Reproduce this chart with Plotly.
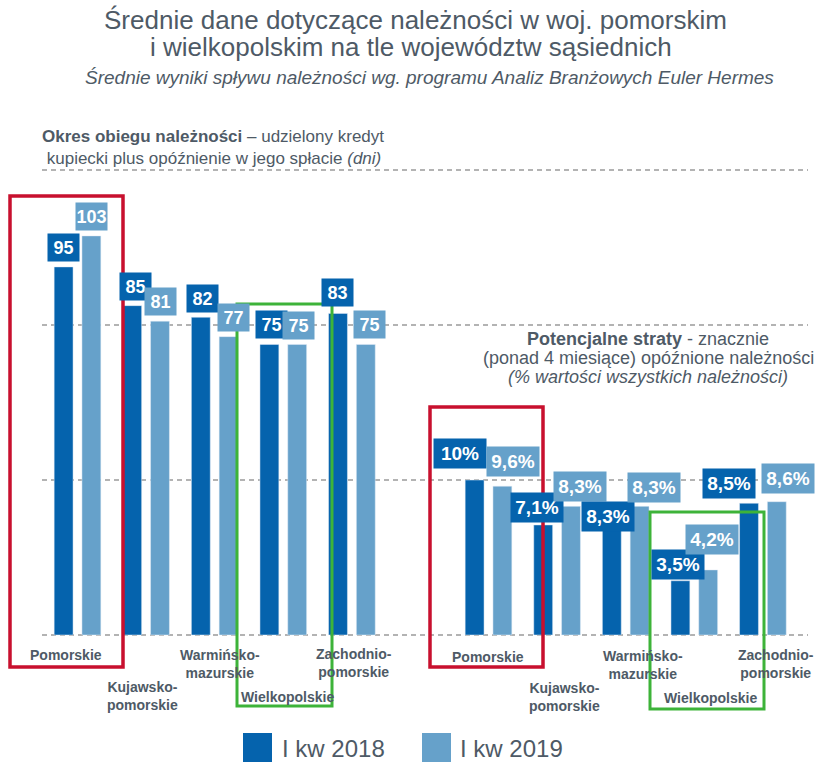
import plotly.graph_objects as go

# ---------------- data ----------------
regions = ["Pomorskie", "Kujawsko-<br>pomorskie", "Warmińsko-<br>mazurskie", "Wielkopolskie", "Zachodnio-<br>pomorskie"]
days_2018 = [95, 85, 82, 75, 83]
days_2019 = [103, 81, 77, 75, 75]
loss_2018 = [10, 7.1, 8.3, 3.5, 8.5]
loss_2019 = [9.6, 8.3, 8.3, 4.2, 8.6]
series_names = ["I kw 2018", "I kw 2019"]

# ---------------- style ----------------
W, H = 831, 771
DARK = "#0563AD"
LIGHT = "#66A1CA"
TXT = "#4E5A66"
RED = "#C8102E"
GREEN = "#3DB339"
FONT = "Liberation Sans, Arial, sans-serif"

BASE_PX = 635           # pixel row of the zero line
K_LEFT = 3.875          # px per day
K_RIGHT = 15.5          # px per percent
GRID_ROWS = [0, 40, 80, 120]

# manual label-box shifts (px): (x shift, gap above bar top)
shift_days_18 = [(0, 5), (3, 5), (1.5, 4), (2, 5), (0, 6)]
shift_days_19 = [(0, 5), (0, 5), (4.5, 5), (1.5, 4), (4, 5)]
shift_loss_18 = [(-15, 11), (-6.5, 2), (-3.5, -26), (-2.5, 1), (-19.5, 4)]
shift_loss_19 = [(10, 9), (8.5, 4), (14, 3), (3.5, 15), (11, 8)]
# category label offsets (px from group centre, px below zero line)
cat_left = [(-12, 20), (-4, 61), (5, 29), (4, 62), (2, 28)]
cat_right = [(-1, 22), (7, 62), (17, 30), (16, 63), (13, 29)]


def px(x):
    return x / W


def py(y):
    return 1 - y / H


def fmt(v, pct=False):
    s = f"{v:g}".replace(".", ",")
    return s + "%" if pct else s


idx = list(range(len(regions)))

fig = go.Figure()
fig.add_trace(go.Bar(x=idx, y=days_2018, marker_color=DARK, name=series_names[0],
                     xaxis="x", yaxis="y", showlegend=False, hoverinfo="skip"))
fig.add_trace(go.Bar(x=idx, y=days_2019, marker_color=LIGHT, name=series_names[1],
                     xaxis="x", yaxis="y", showlegend=False, hoverinfo="skip"))
fig.add_trace(go.Bar(x=idx, y=loss_2018, marker_color=DARK, name=series_names[0],
                     xaxis="x2", yaxis="y2", showlegend=False, hoverinfo="skip"))
fig.add_trace(go.Bar(x=idx, y=loss_2019, marker_color=LIGHT, name=series_names[1],
                     xaxis="x2", yaxis="y2", showlegend=False, hoverinfo="skip"))

spacing = 68.6
bar_off = 14 / spacing
half_w = W / 2
lx0 = -77.5 / spacing
rx0 = -73.0 / spacing
ly0 = -(H - BASE_PX) / K_LEFT
ry0 = -(H - BASE_PX) / K_RIGHT

fig.update_layout(
    width=W, height=H,
    margin=dict(l=0, r=0, t=0, b=0, pad=0),
    paper_bgcolor="white", plot_bgcolor="white",
    barmode="group", bargap=0.19, bargroupgap=0.32,
    xaxis=dict(domain=[0, 0.5], range=[lx0, lx0 + half_w / spacing], visible=False, fixedrange=True),
    xaxis2=dict(domain=[0.5, 1], range=[rx0, rx0 + half_w / spacing], visible=False, anchor="y2", fixedrange=True),
    yaxis=dict(domain=[0, 1], range=[ly0, ly0 + H / K_LEFT], visible=False, fixedrange=True),
    yaxis2=dict(domain=[0, 1], range=[ry0, ry0 + H / K_RIGHT], visible=False, anchor="x2", fixedrange=True),
    font=dict(family=FONT, color=TXT),
    showlegend=False,
)

shapes = []
# dashed gridlines
for g in GRID_ROWS:
    shapes.append(dict(type="line", xref="paper", yref="y", x0=px(42), x1=px(808), y0=g, y1=g,
                       line=dict(color="#9A9A9A", width=1.5, dash="5px,4px"), layer="below"))
# highlight boxes
boxes = [((10, 196, 123, 667), RED, 3.5), ((430, 407, 543, 667), RED, 3.5),
         ((237, 304, 332, 706), GREEN, 3), ((650, 512, 764, 709), GREEN, 3)]
for (x0, y0, x1, y1), c, w in boxes:
    shapes.append(dict(type="rect", xref="paper", yref="paper", x0=px(x0), x1=px(x1),
                       y0=py(y0), y1=py(y1), line=dict(color=c, width=w), layer="above"))
# legend swatches
shapes.append(dict(type="rect", xref="paper", yref="paper", x0=px(243), x1=px(272), y0=py(733), y1=py(762),
                   fillcolor=DARK, line=dict(width=0)))
shapes.append(dict(type="rect", xref="paper", yref="paper", x0=px(422), x1=px(451), y0=py(733), y1=py(762),
                   fillcolor=LIGHT, line=dict(width=0)))

ann = []


def label(xr, yr, x, y, text, color, shift, w, h, size):
    ann.append(dict(xref=xr, yref=yr, x=x, y=y, text=f"<b>{text}</b>", showarrow=False,
                    xanchor="center", yanchor="bottom", xshift=shift[0], yshift=shift[1],
                    bgcolor=color, width=w, height=h, borderpad=0,
                    font=dict(family=FONT, size=size, color="white")))


for i in idx:
    label("x", "y", i - bar_off, days_2018[i], fmt(days_2018[i]), DARK, shift_days_18[i], 31, 27, 18)
    label("x", "y", i + bar_off, days_2019[i], fmt(days_2019[i]), LIGHT, shift_days_19[i], 31, 27, 18)
    label("x2", "y2", i - bar_off, loss_2018[i], fmt(loss_2018[i], True), DARK, shift_loss_18[i], 52, 29, 19)
    label("x2", "y2", i + bar_off, loss_2019[i], fmt(loss_2019[i], True), LIGHT, shift_loss_19[i], 52, 29, 19)

# category labels
for xr, yr, offs in (("x", "y", cat_left), ("x2", "y2", cat_right)):
    for i, name in enumerate(regions):
        ann.append(dict(xref=xr, yref=yr, x=i, y=0, text=f"<b>{name}</b>", showarrow=False,
                        xanchor="center", yanchor="middle", align="center",
                        xshift=offs[i][0], yshift=-offs[i][1],
                        font=dict(family=FONT, size=14, color=TXT)))

# titles and texts
def txt(x, y, text, size, anchor="center", color=TXT, align="center"):
    ann.append(dict(xref="paper", yref="paper", x=px(x), y=py(y), text=text, showarrow=False,
                    xanchor=anchor, yanchor="middle", align=align,
                    font=dict(family=FONT, size=size, color=color)))


txt(415.5, 20, "Średnie dane dotyczące należności w woj. pomorskim", 26)
txt(411, 47, "i wielkopolskim na tle województw sąsiednich", 26)
txt(429.5, 78, "<i>Średnie wyniki spływu należności wg. programu Analiz Branżowych Euler Hermes</i>", 19)
txt(40, 147, "<b>Okres obiegu należności</b> – udzielony kredyt<br>"
             "\u00a0kupiecki plus opóźnienie w jego spłacie <i>(dni)</i>", 17, "left", align="left")
txt(648, 339, "<b>Potencjalne straty</b> - znacznie", 18)
txt(648, 358, "(ponad 4 miesiące) opóźnione należności", 18)
txt(648, 377, "<i>(% wartości wszystkich należności)</i>", 18)
txt(280, 748, series_names[0], 24, "left")
txt(458, 748, series_names[1], 24, "left")

fig.update_layout(shapes=shapes, annotations=ann)
fig.write_html("out.html")
